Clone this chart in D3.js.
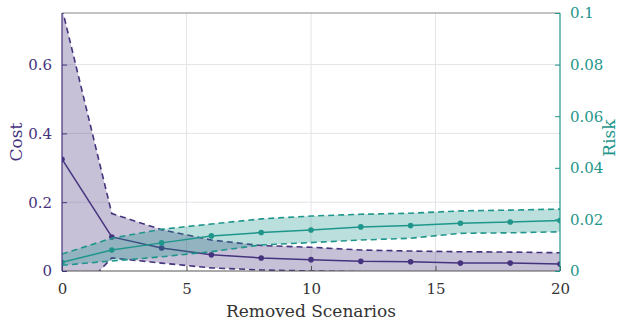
<!DOCTYPE html>
<html lang="en">
<head>
<meta charset="UTF-8">
<title>Cost vs Risk</title>
<script src="https://d3js.org/d3.v7.min.js"></script>
<style>
  body, html { margin: 0; padding: 0; background: #fff; }
  svg { display: block; }
</style>
</head>
<body>
<svg width="618" height="322"></svg>
<script>
// removed scenarios
const removed = [0, 2, 4, 6, 8, 10, 12, 14, 16, 18, 20];
// cost (left axis)
const costMean  = [0.325, 0.099, 0.067, 0.047, 0.038, 0.033, 0.028, 0.027, 0.023, 0.023, 0.020];
const costUpper = [0.764, 0.167, 0.120, 0.090, 0.074, 0.069, 0.061, 0.058, 0.056, 0.055, 0.053];
const costLower = [-0.114, 0.038, 0.023, 0.009, 0.003, 0.000, -0.002, -0.003, -0.005, -0.006, -0.007];
// risk (right axis)
const riskMean  = [0.0034, 0.0081, 0.0109, 0.0136, 0.0149, 0.0159, 0.0171, 0.0176, 0.0185, 0.0190, 0.0196];
const riskUpper = [0.0066, 0.0127, 0.0162, 0.0182, 0.0202, 0.0213, 0.0220, 0.0224, 0.0233, 0.0236, 0.0240];
const riskLower = [0.0022, 0.0039, 0.0055, 0.0075, 0.0101, 0.0110, 0.0120, 0.0127, 0.0146, 0.0148, 0.0152];

const xTicks = [0, 5, 10, 15, 20];
const costTicks = [0, 0.2, 0.4, 0.6];
const riskTicks = [0, 0.02, 0.04, 0.06, 0.08, 0.1];

const purple = '#46337e', teal = '#1f968b';
const serif = 'DejaVu Serif';
const pLeft = 62, pRight = 560, pTop = 13, pBottom = 271;

const svg = d3.select('svg');
const x = d3.scaleLinear().domain([0, 20]).range([pLeft, pRight]);
const yC = d3.scaleLinear().domain([0, 0.75]).range([pBottom, pTop]);
const yR = d3.scaleLinear().domain([0, 0.1]).range([pBottom, pTop]);

svg.append('clipPath').attr('id', 'clip')
  .append('rect').attr('x', pLeft).attr('y', pTop).attr('width', pRight - pLeft).attr('height', pBottom - pTop);

// grid
const grid = svg.append('g').attr('stroke', '#e3e3e8').attr('stroke-width', 1);
xTicks.slice(1, -1).forEach(t => grid.append('line').attr('x1', x(t)).attr('x2', x(t)).attr('y1', pTop).attr('y2', pBottom));
costTicks.slice(1).forEach(t => grid.append('line').attr('x1', pLeft).attr('x2', pRight).attr('y1', yC(t)).attr('y2', yC(t)));

const plot = svg.append('g').attr('clip-path', 'url(#clip)');

function band(lo, hi, mean, yS, color) {
  const idx = removed.map((d, i) => i);
  plot.append('path').datum(idx)
    .attr('d', d3.area().x(i => x(removed[i])).y0(i => yS(lo[i])).y1(i => yS(hi[i])))
    .attr('fill', color).attr('fill-opacity', 0.3);
  [lo, hi].forEach(arr => plot.append('path').datum(idx)
    .attr('d', d3.line().x(i => x(removed[i])).y(i => yS(arr[i])))
    .attr('fill', 'none').attr('stroke', color).attr('stroke-width', 1.6)
    .attr('stroke-dasharray', '6,4'));
  plot.append('path').datum(idx)
    .attr('d', d3.line().x(i => x(removed[i])).y(i => yS(mean[i])))
    .attr('fill', 'none').attr('stroke', color).attr('stroke-width', 1.5);
  plot.selectAll(null).data(idx).join('circle')
    .attr('cx', i => x(removed[i])).attr('cy', i => yS(mean[i])).attr('r', 2.8)
    .attr('fill', color);
}
band(costLower, costUpper, costMean, yC, purple);
band(riskLower, riskUpper, riskMean, yR, teal);

// frame
svg.append('line').attr('x1', pLeft).attr('x2', pRight).attr('y1', pTop).attr('y2', pTop).attr('stroke', '#888').attr('stroke-width', 1.2);
svg.append('line').attr('x1', pLeft).attr('x2', pRight).attr('y1', pBottom).attr('y2', pBottom).attr('stroke', '#555').attr('stroke-width', 1.2);

// axes
const font = 15;
const gx = svg.append('g').attr('transform', `translate(0,${pBottom})`)
  .call(d3.axisBottom(x).tickValues(xTicks).tickSize(-5).tickPadding(12).tickFormat(d3.format('d')));
gx.attr('font-family', serif).attr('font-size', font);
gx.select('.domain').remove();
gx.selectAll('line').attr('stroke', '#555');
gx.selectAll('text').attr('fill', '#333');

const gl = svg.append('g').attr('transform', `translate(${pLeft},0)`)
  .call(d3.axisLeft(yC).tickValues(costTicks).tickSize(-5).tickPadding(10).tickFormat(d => d === 0 ? '0' : d3.format('.1f')(d)));
gl.attr('font-family', serif).attr('font-size', font);
gl.select('.domain').attr('stroke', purple).attr('stroke-width', 1.2).attr('d', `M0,${pBottom}V${pTop}`);
gl.selectAll('line').attr('stroke', purple);
gl.selectAll('text').attr('fill', purple);

const gr = svg.append('g').attr('transform', `translate(${pRight},0)`)
  .call(d3.axisRight(yR).tickValues(riskTicks).tickSize(-5).tickPadding(10).tickFormat(d => d === 0 ? '0' : String(+d.toFixed(2))));
gr.attr('font-family', serif).attr('font-size', font);
gr.select('.domain').attr('stroke', teal).attr('stroke-width', 1.2).attr('d', `M0,${pBottom}V${pTop}`);
gr.selectAll('line').attr('stroke', teal);
gr.selectAll('text').attr('fill', teal);

// labels
svg.append('text').attr('transform', `translate(22,142) rotate(-90)`).attr('text-anchor', 'middle')
  .attr('fill', purple).attr('font-size', 17).attr('font-family', serif).text('Cost');
svg.append('text').attr('transform', `translate(615,138) rotate(-90)`).attr('text-anchor', 'middle')
  .attr('fill', teal).attr('font-size', 17).attr('font-family', serif).text('Risk');
svg.append('text').attr('x', (pLeft + pRight) / 2).attr('y', 317).attr('text-anchor', 'middle')
  .attr('fill', '#333').attr('font-size', 17).attr('font-family', serif).text('Removed Scenarios');
</script>
</body>
</html>
